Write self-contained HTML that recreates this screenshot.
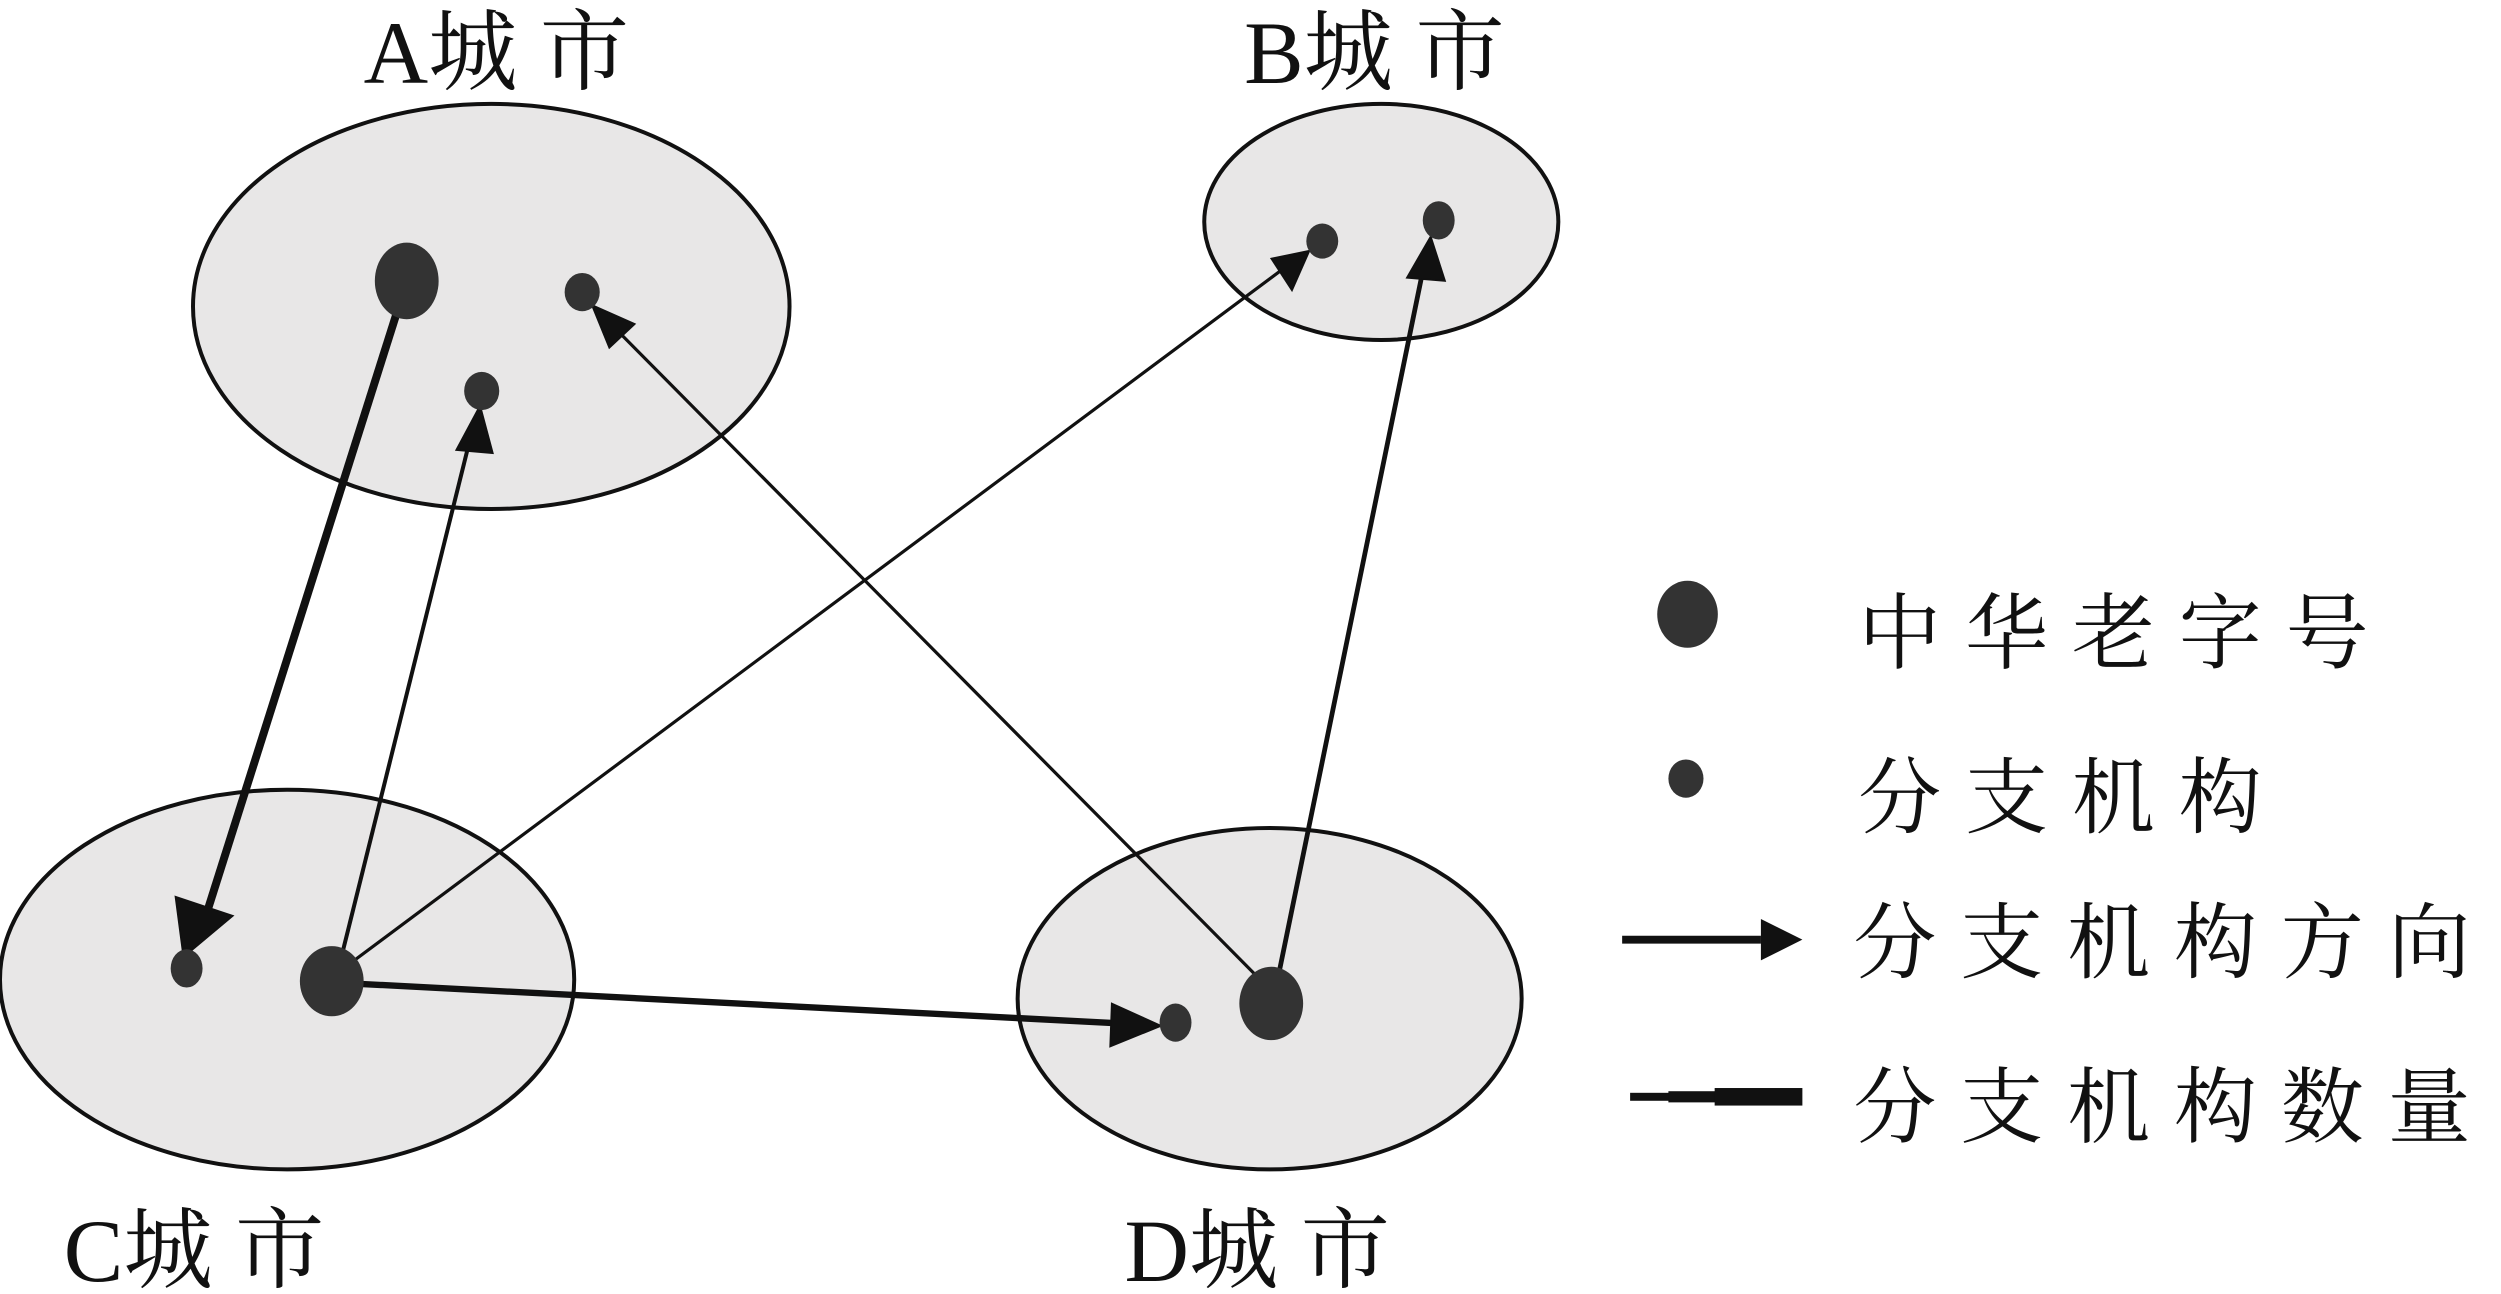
<!DOCTYPE html>
<html><head><meta charset="utf-8"><style>
html,body{margin:0;padding:0;background:#fff;}
svg{display:block;}
text{font-family:"Liberation Serif","Noto Serif CJK SC",serif;fill:#111;}
</style></head><body>
<svg width="2501" height="1294" viewBox="0 0 1568 811" xmlns="http://www.w3.org/2000/svg">
<g fill="#e8e7e7" stroke="#111" stroke-width="2.5">
<ellipse cx="308" cy="192" rx="187" ry="127"/>
<ellipse cx="866" cy="139" rx="111" ry="74"/>
<ellipse cx="180" cy="614" rx="180" ry="119"/>
<ellipse cx="796" cy="626" rx="158" ry="107"/>
</g>
<g stroke="#111" fill="#111">
<line x1="250" y1="192" x2="124" y2="590" stroke-width="5"/>
<polygon points="115,600 110,562 146,574"/>
<line x1="212" y1="608" x2="296" y2="270" stroke-width="2.5"/>
<polygon points="301,254 286,282 309,284"/>
<line x1="214" y1="608" x2="805" y2="168" stroke-width="2"/>
<polygon points="821,157 797,162 810,182"/>
<line x1="212" y1="616" x2="712" y2="642" stroke-width="4"/>
<polygon points="728,643 697,629 696,656"/>
<line x1="792" y1="616" x2="384" y2="204" stroke-width="2"/>
<polygon points="371,191 382,218 398,203"/>
<line x1="801" y1="614" x2="893" y2="165" stroke-width="3"/>
<polygon points="897,148 882,174 906,176"/>
</g>
<g fill="#333">
<ellipse cx="255" cy="176" rx="20" ry="24"/>
<ellipse cx="365" cy="183" rx="11" ry="12"/>
<ellipse cx="302" cy="245" rx="11" ry="12"/>
<ellipse cx="829" cy="151" rx="10" ry="11"/>
<ellipse cx="902" cy="138" rx="10" ry="12"/>
<ellipse cx="117" cy="607" rx="10" ry="12"/>
<ellipse cx="208" cy="615" rx="20" ry="22"/>
<ellipse cx="737" cy="641" rx="10" ry="12"/>
<ellipse cx="797" cy="629" rx="20" ry="23"/>
<ellipse cx="1058" cy="385" rx="19" ry="21"/>
<ellipse cx="1057" cy="488" rx="11" ry="12"/>
</g>
<line x1="1017" y1="589" x2="1104" y2="589" stroke="#111" stroke-width="5"/>
<polygon points="1104,576 1130,589 1104,602" fill="#111"/>
<rect x="1022" y="685" width="26" height="5" fill="#111"/>
<rect x="1046" y="684" width="30" height="7" fill="#111"/>
<rect x="1075" y="682" width="55" height="11" fill="#111"/>
<g font-size="56">
<text x="228" y="52">A城 市</text>
<text x="780" y="52">B城 市</text>
<text x="40" y="803">C城 市</text>
<text x="705" y="803">D城 市</text>
</g>
<g font-size="52" letter-spacing="15">
<text x="1165" y="415">中华老字号</text>
<text x="1165" y="518">分支机构</text>
<text x="1162" y="609">分支机构方向</text>
<text x="1162" y="712">分支机构数量</text>
</g>
</svg>
</body></html>
